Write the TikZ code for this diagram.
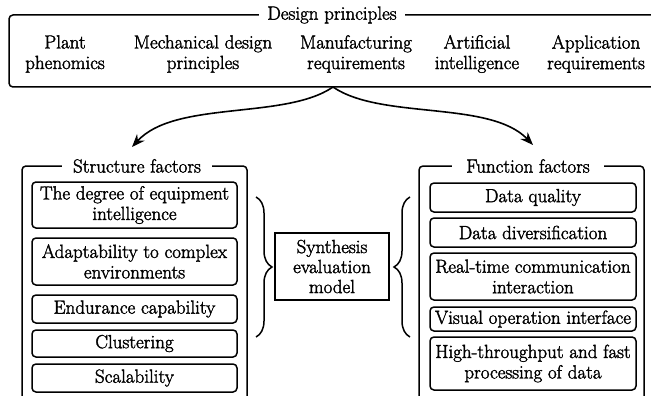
\documentclass[tikz,border=0pt]{standalone}
\usetikzlibrary{arrows.meta,decorations.pathreplacing}
\newcommand\heavytext{\special{pdf:literal direct 2 Tr 0.35 w}}
\begin{document}
\begin{tikzpicture}[x=1pt,y=-1pt,
  txt/.style={font=\rmfamily\fontsize{19}{20.5}\selectfont\heavytext, align=center, inner sep=0pt},
  frame/.style={draw, line width=1.5pt, rounded corners=4pt},
  item/.style={draw, line width=1.5pt, rounded corners=4pt, txt},
  ttl/.style={txt, fill=white, inner ysep=2pt},
  arr/.style={line width=1.6pt, -{Stealth[length=13pt,width=10pt]}},
  brc/.style={line width=1.5pt, decorate, decoration={brace, amplitude=16pt}}
]
\useasboundingbox (0,0) rectangle (651,396);
\clip (0,0) rectangle (651,396);

% top frame
\node[frame, minimum width=661pt, minimum height=72pt, inner sep=0pt] (top) at (339.5,51) {};
\node[ttl, inner xsep=8pt] (dp) at (332,15) {Design principles};
\node[txt] (p1) at (65,54) {Plant\\phenomics};
\node[txt] (p2) at (203,54) {Mechanical design\\principles};
\node[txt] (p3) at (356,54) {Manufacturing\\requirements};
\node[txt] (p4) at (477,54) {Artificial\\intelligence};
\node[txt] (p5) at (596,54) {Application\\requirements};

% arrows
\coordinate (j) at (333,87);
\coordinate (lt) at (132,147);
\coordinate (rt) at (533,145);
\draw[arr] (j) .. controls (285,120) and (175,100) .. (lt);
\draw[arr] (j) .. controls (381,120) and (490,100) .. (rt);

% left frame
\draw[frame] (22,166) rectangle (247,430);
\node[ttl, inner xsep=11pt] (sf) at (137,166) {Structure factors};
\node[item, minimum width=205pt, minimum height=46pt] (s1) at (134.5,205) {The degree of equipment\\intelligence};
\node[item, minimum width=205pt, minimum height=47pt] (s2) at (134.5,261.5) {Adaptability to complex\\environments};
\node[item, minimum width=205pt, minimum height=28pt] (s3) at (134.5,309) {Endurance capability};
\node[item, minimum width=205pt, minimum height=27pt] (s4) at (134.5,343.5) {Clustering};
\node[item, minimum width=205pt, minimum height=28pt] (s5) at (134.5,378) {Scalability};

% right frame
\draw[frame] (419,166) rectangle (644,430);
\node[ttl, inner xsep=14pt] (ff) at (528,166) {Function factors};
\node[item, minimum width=206pt, minimum height=29pt] (f1) at (533,197.5) {Data quality};
\node[item, minimum width=206pt, minimum height=29pt] (f2) at (533,232.5) {Data diversification};
\node[item, minimum width=206pt, minimum height=47pt] (f3) at (533,276.5) {Real-time communication\\interaction};
\node[item, minimum width=206pt, minimum height=24pt] (f4) at (533,319) {Visual operation interface};
\node[item, minimum width=206pt, minimum height=53pt] (f5) at (533,363.5) {High-throughput and fast\\processing of data};

% synthesis
\node[draw, line width=1.5pt, minimum width=114pt, minimum height=67pt, txt, font=\rmfamily\fontsize{19}{20}\selectfont\heavytext] (syn) at (332,266.5) {Synthesis\\evaluation\\model};
\coordinate (lb1) at (256,197);
\coordinate (lb2) at (256,337);
\coordinate (rb1) at (410,337);
\coordinate (rb2) at (410,197);
\draw[brc] (lb1) -- (lb2);
\draw[brc] (rb1) -- (rb2);
\end{tikzpicture}
\end{document}
